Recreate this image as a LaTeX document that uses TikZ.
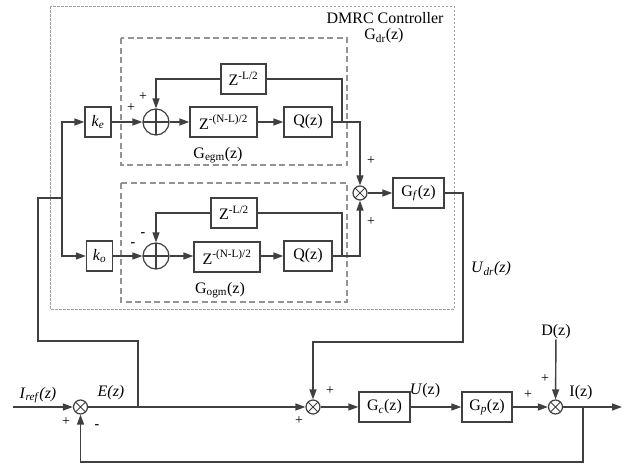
\documentclass[tikz,border=0pt]{standalone}
\usepackage{fontspec}
\setmainfont{Liberation Serif}
\usetikzlibrary{arrows.meta, positioning}
\definecolor{ln}{RGB}{64,64,64}

\begin{document}
\begin{tikzpicture}[
  x=1pt, y=-1pt,
  blk/.style   = {rectangle, draw=ln, line width=1.4pt, minimum height=30pt,
                  inner sep=1pt, font=\fontsize{16}{18}\selectfont},
  addc/.style  = {circle, draw=ln, line width=1.2pt, minimum size=26pt, inner sep=0pt,
                  path picture={\draw[ln, line width=1.2pt]
                    (path picture bounding box.north) -- (path picture bounding box.south)
                    (path picture bounding box.west) -- (path picture bounding box.east);}},
  mulc/.style  = {circle, draw=ln, line width=1.2pt, minimum size=14pt, inner sep=0pt,
                  path picture={\draw[ln, line width=1pt]
                    ([shift={(45:9pt)}]path picture bounding box.center) -- ([shift={(225:9pt)}]path picture bounding box.center)
                    ([shift={(135:9pt)}]path picture bounding box.center) -- ([shift={(-45:9pt)}]path picture bounding box.center);}},
  lbl/.style   = {font=\fontsize{16}{18}\selectfont, inner sep=0pt},
  sgn/.style   = {font=\fontsize{14}{16}\selectfont, inner sep=0pt},
  wire/.style  = {ln, line width=1.4pt},
  arr/.style   = {wire, -{Triangle[length=10pt, width=7pt]}},
  outbox/.style= {draw=gray!75, line width=1pt, dash pattern=on 2.5pt off 1.5pt},
  inbox/.style = {draw=gray!85, line width=1.2pt, dash pattern=on 6pt off 3.5pt}
]
\useasboundingbox (0,0) rectangle (633,466);

\draw[outbox] (50,6) rectangle (454,309);
\draw[inbox]  (121,38) rectangle (347,165);
\draw[inbox]  (121,183) rectangle (347,302);
\node[lbl] (dmrc) at (385,18) {DMRC Controller};
\node[lbl] (gdr)  at (384,36) {G\textsubscript{dr}(z)};
\node[lbl] (gegm) at (218,155) {G\textsubscript{egm}(z)};
\node[lbl] (gogm) at (220,290) {G\textsubscript{ogm}(z)};

\node[blk, minimum width=26pt] (ke)  at (98,122)    {\textit{k}\textsubscript{\textit{e}}};
\node[addc]                    (se)  at (156,122)   {};
\node[blk, minimum width=67pt] (de)  at (223.5,122) {Z\textsuperscript{-(N-L)/2}};
\node[blk, minimum width=48pt] (qe)  at (308,122)   {Q(z)};
\node[blk, minimum width=45pt] (le)  at (243.5,79)  {Z\textsuperscript{-L/2}};

\node[blk, minimum width=26pt] (ko)  at (99.5,256)  {\textit{k}\textsubscript{\textit{o}}};
\node[addc]                    (so)  at (156,256)   {};
\node[blk, minimum width=66pt] (do)  at (227,257)   {Z\textsuperscript{-(N-L)/2}};
\node[blk, minimum width=48pt] (qo)  at (308,256)   {Q(z)};
\node[blk, minimum width=46pt] (lo)  at (234,213)   {Z\textsuperscript{-L/2}};

\node[mulc]                    (mx)  at (360,193)   {};
\node[blk, minimum width=51pt] (gf)  at (418.5,193) {G\textsubscript{\textit{f}}(z)};

\node[mulc]                    (sE)  at (80.5,407)  {};
\node[mulc]                    (sU)  at (313,407)   {};
\node[blk, minimum width=51pt] (gc)  at (384.5,407) {G\textsubscript{\textit{c}}(z)};
\node[blk, minimum width=50pt] (gp)  at (487,407)   {G\textsubscript{\textit{p}}(z)};
\node[mulc]                    (sI)  at (555.5,407) {};
\node[lbl] (dz)   at (556,332) {D(z)};

\coordinate (in)  at (13,407);
\coordinate (out) at (622,407);
\coordinate (eb)  at (138,407);
\coordinate (ib)  at (583,407);
\coordinate (kb)  at (62,198);

% upper repetitive branch
\draw[arr] (ke) -- (se);
\draw[arr] (se) -- (de);
\draw[arr] (de) -- (qe);
\draw[wire] (qe.east) -- (342,122) |- (le.east);
\draw[arr] (le.west) -| (se.north);
\draw[arr] (qe.east) -| (mx.north);

% lower repetitive branch
\draw[arr] (ko) -- (so);
\draw[arr] (so) -- (qo.west -| do.west);
\draw[arr] (do.east |- qo) -- (qo);
\draw[wire] (qo.east) -- (342,256) |- (lo.east);
\draw[arr] (lo.west) -| (so.north);
\draw[arr] (qo.east) -| (mx.south);

\draw[arr] (mx) -- (gf);
\draw[arr] (gf.east) -- (463,193) -- (463,342) -| (sU.north);

% error signal to both gains
\draw[wire] (eb) -- (138,341) -- (38,341) -- (38,198) -- (kb);
\draw[arr] (kb) |- (ke.west);
\draw[arr] (kb) |- (ko.west);

% main loop
\draw[arr] (in) -- (sE);
\draw[arr] (sE) -- (sU);
\draw[arr] (sU) -- (gc);
\draw[arr] (gc) -- (gp);
\draw[arr] (gp) -- (sI);
\draw[arr] (dz) -- (sI);
\draw[arr] (sI) -- (out);
\draw[arr] (ib) -- (583,462) -| (sE.south);

\node[lbl] (iref) at (38,395)  {\textit{I}\textsubscript{\textit{ref}}\textit{(z)}};
\node[lbl] (ez)   at (111,393) {\textit{E}\textit{(z)}};
\node[lbl] (uz)   at (425,391) {\textit{U}(z)};
\node[lbl] (iz)   at (581,393) {I(z)};
\node[lbl] (udr)  at (491,269) {\textit{U}\textsubscript{\textit{dr}}\textit{(z)}};

\node[sgn] at (131,108) {+};
\node[sgn] at (143,97)  {+};
\node[sgn] at (133,245) {\textbf{-}};
\node[sgn] at (143,235) {\textbf{-}};
\node[sgn] at (371,161) {+};
\node[sgn] at (371,222) {+};
\node[sgn] at (66,422)  {+};
\node[sgn] at (97,427)  {\textbf{-}};
\node[sgn] at (299,421) {+};
\node[sgn] at (330,391) {+};
\node[sgn] at (545,379) {+};
\node[sgn] at (528,395) {+};
\end{tikzpicture}
\end{document}
